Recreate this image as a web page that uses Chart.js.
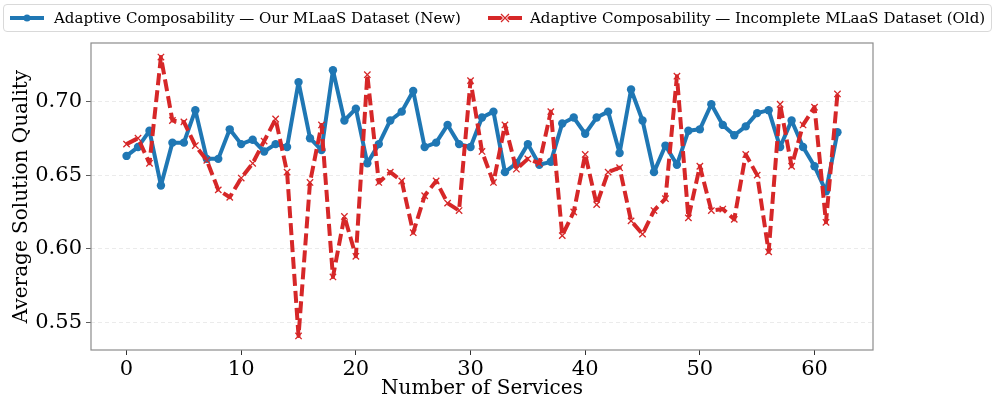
<!DOCTYPE html>
<html>
<head>
<meta charset="utf-8">
<script src="https://cdn.jsdelivr.net/npm/chart.js@4"></script>
<style>
  body { margin: 0; background: #fff; }
  #wrap { position: relative; width: 996px; height: 405px; }
  #legend {
    position: absolute; left: 3px; top: 4px; width: 987px; height: 26px;
    border: 1px solid #d9d9d9; border-radius: 4px; background: #fff;
    font-family: "DejaVu Serif", serif; font-size: 15px; color: #000;
  }
  .item { position: absolute; top: 0; height: 26px; line-height: 26px; white-space: nowrap; }
  .item svg { position: absolute; top: 5px; }
  .item span { position: absolute; top: 0; }
</style>
</head>
<body>
<div id="wrap">
  <canvas id="qualityChart" width="996" height="405"></canvas>
  <div id="legend">
    <div class="item" style="left:4px">
      <svg width="38" height="16"><line x1="2" y1="8" x2="36" y2="8" stroke="#1f77b4" stroke-width="4"/><circle cx="19" cy="8" r="3.5" fill="#1f77b4"/></svg>
      <span style="left:46px">Adaptive Composability — Our MLaaS Dataset (New)</span>
    </div>
    <div class="item" style="left:482px">
      <svg width="38" height="16"><line x1="2" y1="8" x2="36" y2="8" stroke="#d62728" stroke-width="4"/><path d="M15 4 L23 12 M23 4 L15 12" stroke="#fff" stroke-width="3"/><path d="M15 4 L23 12 M23 4 L15 12" stroke="#d62728" stroke-width="1.2"/></svg>
      <span style="left:44px">Adaptive Composability — Incomplete MLaaS Dataset (Old)</span>
    </div>
  </div>
</div>
<script>
// x values: number of services
const services = [0, 1, 2, 3, 4, 5, 6, 7, 8, 9, 10, 11, 12, 13, 14, 15, 16, 17, 18, 19, 20,
  21, 22, 23, 24, 25, 26, 27, 28, 29, 30, 31, 32, 33, 34, 35, 36, 37, 38, 39, 40,
  41, 42, 43, 44, 45, 46, 47, 48, 49, 50, 51, 52, 53, 54, 55, 56, 57, 58, 59, 60, 61, 62]

// Our MLaaS dataset (new)
const newQuality = [0.663, 0.669, 0.680, 0.643, 0.672, 0.672, 0.694, 0.661, 0.661, 0.681,
  0.671, 0.674, 0.666, 0.671, 0.669, 0.713, 0.675, 0.667, 0.721, 0.687,
  0.695, 0.658, 0.671, 0.687, 0.693, 0.707, 0.669, 0.672, 0.684, 0.671,
  0.669, 0.689, 0.693, 0.652, 0.658, 0.671, 0.657, 0.659, 0.685, 0.689,
  0.678, 0.689, 0.693, 0.665, 0.708, 0.687, 0.652, 0.670, 0.657, 0.680,
  0.681, 0.698, 0.684, 0.677, 0.683, 0.692, 0.694, 0.669, 0.687, 0.669,
  0.656, 0.639, 0.679]

// Incomplete MLaaS dataset (old)
const oldQuality = [0.671, 0.675, 0.658, 0.730, 0.687, 0.686, 0.670, 0.660, 0.640, 0.635,
  0.648, 0.658, 0.673, 0.688, 0.652, 0.541, 0.645, 0.684, 0.581, 0.622,
  0.595, 0.718, 0.645, 0.652, 0.646, 0.611, 0.636, 0.646, 0.631, 0.626,
  0.714, 0.666, 0.645, 0.684, 0.654, 0.661, 0.658, 0.693, 0.609, 0.625,
  0.664, 0.630, 0.652, 0.655, 0.619, 0.610, 0.626, 0.634, 0.717, 0.621,
  0.656, 0.626, 0.627, 0.620, 0.664, 0.650, 0.598, 0.698, 0.656, 0.684,
  0.696, 0.618, 0.705]

const xTicks = [0, 10, 20, 30, 40, 50, 60]
const yTicks = [0.55, 0.60, 0.65, 0.70]

const toPoints = (vals) => vals.map((v, i) => ({ x: services[i], y: v }))

// draws the full axes box like matplotlib spines
const frame = {
  id: "frame",
  afterDatasetsDraw(chart) {
    const a = chart.chartArea
    const c = chart.ctx
    c.save()
    c.strokeStyle = "#8c8c8c"
    c.lineWidth = 1.2
    c.strokeRect(a.left, a.top, a.right - a.left, a.bottom - a.top)
    c.restore()
  },
}

const font = "DejaVu Serif"

new Chart(document.getElementById("qualityChart").getContext("2d"), {
  type: "line",
  data: {
    datasets: [
      {
        label: "Adaptive Composability — Our MLaaS Dataset (New)",
        data: toPoints(newQuality),
        borderColor: "#1f77b4",
        backgroundColor: "#1f77b4",
        borderWidth: 4,
        borderJoinStyle: "round",
        borderCapStyle: "round",
        pointRadius: 4.2,
        pointBorderWidth: 0,
        pointStyle: "circle",
        tension: 0,
        order: 2,
      },
      {
        label: "Adaptive Composability — Incomplete MLaaS Dataset (Old)",
        data: toPoints(oldQuality),
        borderColor: "#d62728",
        backgroundColor: "#d62728",
        borderWidth: 4,
        borderDash: [12, 5],
        borderJoinStyle: "round",
        pointRadius: 4.5,
        pointStyle: "crossRot",
        pointBorderWidth: 1.3,
        tension: 0,
        order: 1,
      },
    ],
  },
  options: {
    responsive: false,
    animation: false,
    devicePixelRatio: 1,
    layout: { padding: { top: 43, right: 123, left: 0, bottom: 0 } },
    plugins: { legend: { display: false }, tooltip: { enabled: false } },
    scales: {
      x: {
        type: "linear",
        min: -3.1,
        max: 65.1,
        afterBuildTicks: (s) => { s.ticks = xTicks.map((v) => ({ value: v })) },
        afterFit: (s) => { s.height = 55 },
        grid: { drawOnChartArea: false, tickLength: 5, color: "#333" },
        border: { display: false },
        ticks: { color: "#000", font: { family: font, size: 21 }, padding: 2, maxRotation: 0 },
        title: { display: true, text: "Number of Services", color: "#000", font: { family: font, size: 20 }, padding: { top: 0, bottom: 4 } },
      },
      y: {
        min: 0.5315,
        max: 0.7395,
        afterBuildTicks: (s) => { s.ticks = yTicks.map((v) => ({ value: v })) },
        afterFit: (s) => { s.width = 91 },
        grid: { color: "#e6e6e6", lineWidth: 0.8, tickLength: 5, tickColor: "#333" },
        border: { display: false, dash: [4, 3] },
        ticks: { color: "#000", font: { family: font, size: 21 }, padding: 4, callback: (v) => v.toFixed(2) },
        title: { display: true, text: "Average Solution Quality", color: "#000", font: { family: font, size: 20 }, padding: { top: 10, bottom: 0 } },
      },
    },
  },
  plugins: [frame],
})
</script>
</body>
</html>
